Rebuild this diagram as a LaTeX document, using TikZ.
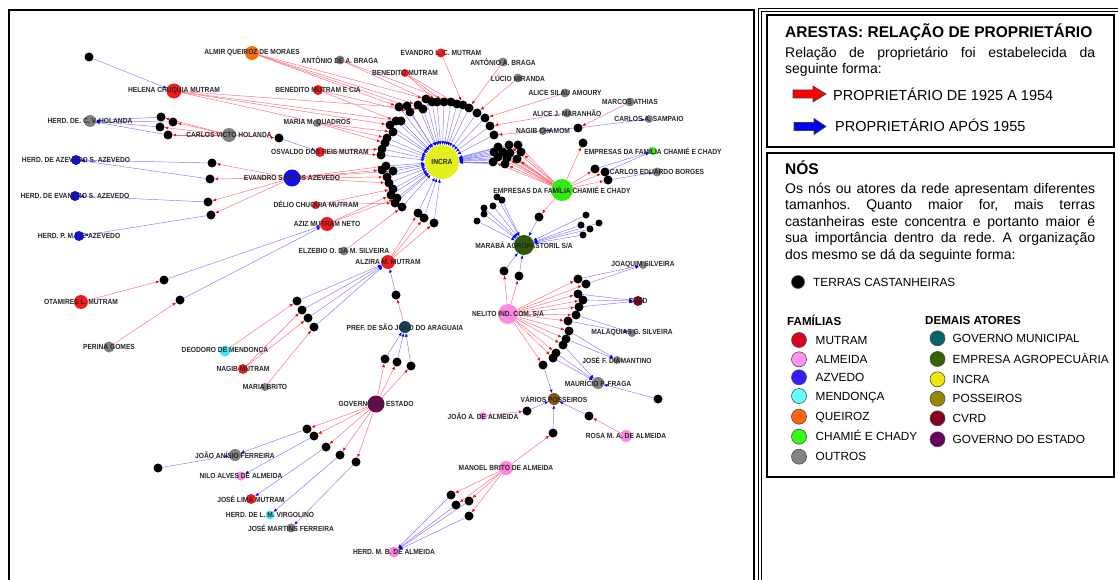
\documentclass[tikz,border=0pt]{standalone}
\usepackage{fontspec}
\setmainfont{Liberation Sans}
\newfontfamily\lblfont[FakeStretch=0.9]{Liberation Sans}
\usetikzlibrary{arrows.meta,backgrounds}

\definecolor{oldred}{RGB}{255,105,120}
\definecolor{newblue}{RGB}{125,120,255}
\definecolor{nmutram}{RGB}{245,25,30}
\definecolor{nalmeida}{RGB}{255,135,225}
\definecolor{nazevedo}{RGB}{20,10,250}
\definecolor{nmendonca}{RGB}{60,230,245}
\definecolor{nqueiroz}{RGB}{245,115,15}
\definecolor{nchamie}{RGB}{50,235,20}
\definecolor{noutros}{RGB}{128,128,128}
\definecolor{nincra}{RGB}{228,240,30}
\definecolor{nmaraba}{RGB}{45,90,5}
\definecolor{npref}{RGB}{15,70,95}
\definecolor{ngov}{RGB}{105,10,75}
\definecolor{nposseiros}{RGB}{135,85,5}
\definecolor{ncvrd}{RGB}{135,0,30}
\definecolor{kmutram}{RGB}{220,0,35}
\definecolor{kalmeida}{RGB}{255,150,235}
\definecolor{kazevedo}{RGB}{50,30,255}
\definecolor{kmendonca}{RGB}{100,255,255}
\definecolor{kqueiroz}{RGB}{255,100,15}
\definecolor{kchamie}{RGB}{50,255,20}
\definecolor{koutros}{RGB}{130,130,130}
\definecolor{kmun}{RGB}{0,100,105}
\definecolor{kempresa}{RGB}{50,100,0}
\definecolor{kincra}{RGB}{240,230,0}
\definecolor{kposseiros}{RGB}{150,135,0}
\definecolor{kcvrd}{RGB}{135,0,30}
\definecolor{kgov}{RGB}{100,0,100}

\begin{document}
\frenchspacing
\begin{tikzpicture}[%
    x=1pt, y=-1pt,
    land/.style={
        circle,
        fill=black,
        inner sep=0pt,
        minimum size=9,
        },
    smallland/.style={land, minimum size=7},
    actor/.style={
        circle,
        inner sep=0pt,
        minimum size=#1,
        },
    actorlabel/.style={
        font=\lblfont\fontsize{7.4}{8}\selectfont\bfseries,
        text=black!85,
        inner sep=0pt,
        },
    before/.style={oldred, line width=0.45pt, -{Latex[length=3.5pt, width=3pt, color=red]}},
    after/.style={newblue, line width=0.45pt, -{Latex[length=3.5pt, width=3pt, color=blue]}},
    keydot/.style={circle, draw=black!70, line width=0.6pt, minimum size=15, inner sep=0pt},
    keytext/.style={anchor=base west, yshift=-4.2pt, inner sep=0pt, font=\fontsize{11.8}{14}\selectfont},
    keyhead/.style={anchor=base west, inner sep=0pt, font=\fontsize{11.6}{14}\selectfont\bfseries},
    keyarrow/.style={draw=black!75, line width=0.6pt},
]

\useasboundingbox (0,0) rectangle (1118,580);

% molduras
\draw[line width=2.5pt] (9,600) -- (9,10) -- (754,10) -- (754,600);
\draw[line width=0.8pt, double, double distance=2pt] (760,600) -- (760,10) -- (1130,10);
\draw[line width=1.8pt] (767,15) rectangle (1114,147);
\draw[line width=1.8pt] (767,153) rectangle (1114,477);

% terras castanheiras
\foreach \x/\y [count=\i] in {399/107, 407/106, 410/112, 418/105, 423/109, 426/99, 432/102,
        437/102, 444/102, 451/102, 457/104, 463/105, 469/108, 477/113, 485/118, 490/126,
        494/135, 390/125, 396/121, 401/121, 393/132, 387/138, 385/143, 382/149, 381/155,
        382/170, 386/166, 393/171, 387/177, 389/183, 393/189, 391/195, 397/198, 395/203,
        402/207}
    \node[land] (r\i) at (\x,\y) {};
\foreach \x/\y [count=\i] in {498/147, 509/145, 518/145, 494/152, 503/152, 510/153, 521/152,
        498/157, 507/158, 517/159, 493/162, 505/164}
    \node[land] (q\i) at (\x,\y) {};
\foreach \x/\y [count=\i] in {578/279, 586/284, 578/294, 583/300, 579/307, 576/315, 568/321,
        569/331, 566/339, 563/345, 556/353, 553/358}
    \node[land] (n\i) at (\x,\y) {};
\foreach \x/\y [count=\i] in {497/197, 502/200, 484/208, 493/206, 484/214, 477/221, 586/215,
        599/223, 581/225, 590/229, 583/235}
    \node[smallland] (c\i) at (\x,\y) {};
\foreach \n/\x/\y in {c12/539/217, c13/504/271, c14/519/276,
        h1/161/117, h2/173/122, h3/160/127, h4/168/135, h5/279/138,
        e1/212/163, e2/210/179, e3/208/202, e4/211/215, x1/89/57,
        a1/164/280, a2/180/300, z1/297/301, z2/302/310, z3/308/318, z4/314/327,
        i1/418/213, i2/424/218, i3/434/223, p1/396/295,
        g1/385/359, g2/397/362, g3/411/366,
        s1/307/429, s2/314/436, s3/326/447, s4/340/455, s5/356/462, s6/158/468,
        m1/451/495, m2/456/505, m3/469/501, m4/469/516,
        v1/543/365, v2/527/411, v3/553/433, v4/589/416, v5/658/399,
        k1/583/143, k2/578/128, w1/595/169, w2/605/172, w3/608/180}
    \node[land] (\n) at (\x,\y) {};

% atores
\foreach \n/\x/\y/\s/\c in {incra/442/162/34/nincra, almir/252/53/14/nqueiroz,
        antoniodab/340/60/9/noutros, evandrolc/441/53/9/nmutram, antonioab/503/62/9/noutros,
        bmutram/405/73/8/nmutram, lucio/518/78/9/noutros, bmcia/318/90/10/nmutram,
        helena/174/91/15/nmutram, alicesilau/565/93/9/noutros, marcos/630/102/9/noutros,
        alicej/567/113/9/noutros, sampaio/649/119/8/noutros, nagibc/543/131/8/noutros,
        herdcvh/90/121/12/noutros, cvholanda/229/135/14/noutros, mquadros/317/123/8/noutros,
        osvaldo/320/152/10/nmutram, herdazs/76/160/10/nazevedo, evandro/292/178/17/nazevedo,
        chamie/653/151/8/nchamie, borges/657/172/9/noutros, bigreen/562/190/22/nchamie,
        herdevs/75/196/10/nazevedo, delio/316/205/8/nmutram, aziz/327/224/14/nmutram,
        herdpm/79/236/10/nazevedo, elzebio/344/251/9/noutros, alzira/388/262/14/nmutram,
        maraba/524/245/20/nmaraba, joaquim/643/265/8/noutros, cvrd/638/301/10/ncvrd,
        otamires/81/302/14/nmutram, nelito/508/314/20/nalmeida, pref/405/327/12/npref,
        malaquias/632/333/8/noutros, perina/109/347/11/noutros, deodoro/225/351/11/nmendonca,
        diamantino/617/360/8/noutros, nagibm/243/369/10/nmutram, mauricio/598/383/12/noutros,
        mariab/265/387/8/noutros, gov/376/404/17/ngov, posseiros/554/399/12/nposseiros,
        joaoa/483/416/8/nalmeida, rosa/626/436/12/nalmeida, joaoanisio/235/455/12/noutros,
        manoel/506/468/14/nalmeida, nilo/241/476/9/nalmeida, joselima/251/499/10/nmutram,
        virgolino/270/515/9/nmendonca, josemartins/291/528/9/noutros, herdmb/394/552/11/nalmeida}
    \node[actor=\s, fill=\c] (\n) at (\x,\y) {};

% arestas
\begin{scope}[on background layer]
    \foreach \a/\b in {almir/r1, almir/r2, almir/r4, almir/r6, bmcia/r3, bmcia/r19,
            helena/r5, helena/r18, helena/r20, helena/r22, antoniodab/r7, antoniodab/r10,
            bmutram/r8, bmutram/r9, bmutram/r11, evandrolc/r12, antonioab/r13, lucio/r14,
            alicesilau/r15, alicej/r16, nagibc/r17, mquadros/r21, mquadros/r23,
            osvaldo/r24, osvaldo/r25, evandro/r26, evandro/r27, evandro/r28, evandro/r29,
            evandro/r30, delio/r31, delio/r34, aziz/r32, aziz/r33, elzebio/r35,
            evandro/e1, evandro/e2, evandro/e3, evandro/e4,
            alzira/i1, alzira/i2, alzira/i3, cvholanda/h1, cvholanda/h2, cvholanda/h3,
            cvholanda/h4, cvholanda/h5, otamires/a1, perina/a2, deodoro/z1, nagibm/z2,
            nagibm/z3, mariab/z4, pref/p1, gov/g1, gov/g2, gov/g3, gov/s1, gov/s2, gov/s3,
            gov/s4, gov/s5, manoel/m1, manoel/m2, manoel/m3, manoel/m4, manoel/v3,
            nelito/v1, nelito/c13, nelito/c14, joaoa/v2, rosa/v4, bigreen/c12,
            bigreen/k1, bigreen/w1, bigreen/w2, bigreen/w3, marcos/k2}
        \draw[before] (\a) -- (\b);
    \foreach \i in {1,...,12} {
        \draw[before] (bigreen) -- (q\i);
        \draw[before] (nelito) -- (n\i);
        \draw[after] (q\i) -- (incra);
    }
    \foreach \i in {1,...,35}
        \draw[after] (r\i) -- (incra);
    \foreach \i in {1,...,14}
        \draw[after] (c\i) -- (maraba);
    \foreach \a/\b in {i1/incra, i2/incra, i3/incra, h1/herdcvh, h2/herdcvh, h3/herdcvh,
            h4/herdcvh, h5/osvaldo, e1/herdazs, e2/herdazs, e3/herdevs, e4/herdpm,
            x1/helena, a1/aziz, a2/aziz, z1/alzira, z2/alzira, z3/alzira, z4/alzira,
            p1/alzira, g1/pref, g2/pref, g3/pref, s1/joaoanisio, s6/joaoanisio, s2/nilo,
            s3/joselima, s4/virgolino, s5/josemartins, m1/herdmb, m2/herdmb, m3/herdmb,
            m4/herdmb, v1/posseiros, v2/posseiros, v3/posseiros, v4/posseiros,
            v5/mauricio, n1/joaquim, n2/joaquim, n3/cvrd, n4/cvrd, n5/cvrd,
            n6/malaquias, n7/malaquias, n8/diamantino, n9/diamantino, n10/mauricio,
            n11/mauricio, n12/mauricio, k2/nagibc, k2/sampaio, w1/chamie, w2/chamie,
            w3/borges}
        \draw[after] (\a) -- (\b);
\end{scope}

% rotulos
\foreach \n/\t in {incra/INCRA, almir/ALMIR QUEIROZ DE MORAES, antoniodab/ANTÔNIO DE A. BRAGA,
        evandrolc/EVANDRO L. C. MUTRAM, antonioab/ANTÔNIO A. BRAGA, bmutram/BENEDITO MUTRAM,
        lucio/LÚCIO MIRANDA, bmcia/BENEDITO MUTRAM E CIA, helena/HELENA CHUQUIA MUTRAM,
        alicesilau/ALICE SILAU AMOURY, marcos/MARCOS ATHIAS, alicej/ALICE J. MARANHÃO,
        sampaio/CARLOS A. SAMPAIO, nagibc/NAGIB CHAMOM, herdcvh/HERD. DE. C. V. HOLANDA,
        cvholanda/CARLOS VICTO HOLANDA, mquadros/MARIA M. QUADROS,
        osvaldo/OSVALDO DOS REIS MUTRAM, herdazs/HERD. DE AZEVEDO S. AZEVEDO,
        evandro/EVANDRO SANTOS AZEVEDO, chamie/EMPRESAS DA FAMÍLIA CHAMIÉ E CHADY,
        borges/CARLOS EDUARDO BORGES, bigreen/EMPRESAS DA FAMÍLIA CHAMIÉ E CHADY,
        herdevs/HERD. DE EVANDRO S. AZEVEDO, delio/DÉLIO CHUQUIA MUTRAM,
        aziz/AZIZ MUTRAM NETO, herdpm/HERD. P. M. DE AZEVEDO,
        elzebio/ELZEBIO O. DA M. SILVEIRA, alzira/ALZIRA M. MUTRAM,
        maraba/{MARABÁ AGROPASTORIL S/A}, joaquim/JOAQUIM SILVEIRA, cvrd/CVRD,
        otamires/OTAMIRES L. MUTRAM, nelito/{NELITO IND. COM. S/A},
        pref/PREF. DE SÃO JOÃO DO ARAGUAIA, malaquias/MALAQUIAS G. SILVEIRA,
        perina/PERINA GOMES, deodoro/DEODORO DE MENDONÇA, diamantino/JOSÉ F. DIAMANTINO,
        nagibm/NAGIB MUTRAM, mauricio/MAURÍCIO P. FRAGA, mariab/MARIA BRITO,
        gov/GOVERNO DO ESTADO, posseiros/VÁRIOS POSSEIROS, joaoa/JOÃO A. DE ALMEIDA,
        rosa/ROSA M. A. DE ALMEIDA, joaoanisio/JOÃO ANÍSIO FERREIRA,
        manoel/MANOEL BRITO DE ALMEIDA, nilo/NILO ALVES DE ALMEIDA,
        joselima/JOSÉ LIMA MUTRAM, virgolino/HERD. DE L. M. VIRGOLINO,
        josemartins/JOSÉ MARTINS FERREIRA, herdmb/HERD. M. B. DE ALMEIDA}
    \node[actorlabel] (l\n) at (\n) {\t};

% legenda: arestas
\node[anchor=base west, inner sep=0pt, font=\fontsize{15.5}{18}\selectfont\bfseries]
    (arestas) at (785,37.5) {ARESTAS: RELAÇÃO DE PROPRIETÁRIO};
\node[anchor=north west, inner sep=0pt, text width=310pt, align=justify,
    font=\fontsize{14}{16}\selectfont]
    (arestastxt) at (785,46.5) {Relação de proprietário foi estabelecida da\linebreak seguinte forma:};
\draw[keyarrow, fill=red] (793,90) -- (813,90) -- (813,86) -- (826,94)
    -- (813,102) -- (813,98) -- (793,98) -- cycle;
\node[anchor=base west, inner sep=0pt, font=\fontsize{14.5}{17}\selectfont]
    (ate1954) at (833,100.5) {PROPRIETÁRIO DE 1925 A 1954};
\draw[keyarrow, fill=blue] (794,122.5) -- (814,122.5) -- (814,118.5) -- (826,126.5)
    -- (814,134.5) -- (814,130.5) -- (794,130.5) -- cycle;
\node[anchor=base west, inner sep=0pt, font=\fontsize{14.5}{17}\selectfont]
    (apos1955) at (835,132) {PROPRIETÁRIO APÓS 1955};

% legenda: nos
\node[anchor=base west, inner sep=0pt, font=\fontsize{15.5}{18}\selectfont\bfseries]
    (nos) at (785,175) {NÓS};
\node[anchor=north west, inner sep=0pt, text width=310pt, align=justify,
    font=\fontsize{14}{16.4}\selectfont]
    (nostxt) at (785,183) {Os nós ou atores da rede apresentam diferentes\linebreak
    tamanhos. Quanto maior for, mais terras\linebreak
    castanheiras este concentra e portanto maior é\linebreak
    sua importância dentro da rede. A organização\linebreak
    dos mesmo se dá da seguinte forma:};
\node[keydot, fill=black, minimum size=13] (terradot) at (798,282) {};
\node[keytext] (terratxt) at (813,282) {TERRAS CASTANHEIRAS};

\node[keyhead] (familias) at (787,325) {FAMÍLIAS};
\node[keyhead] (demais) at (925,324.5) {DEMAIS ATORES};
\foreach \c/\y/\t [count=\i] in {kmutram/340/MUTRAM, kalmeida/359.3/ALMEIDA,
        kazevedo/377.3/AZVEDO, kmendonca/396/MENDONÇA, kqueiroz/416.7/QUEIROZ,
        kchamie/436.7/CHAMIÉ E CHADY, koutros/456.7/OUTROS} {
    \node[keydot, fill=\c] (fam\i) at (799,\y) {};
    \node[keytext] (famtxt\i) at (815.5,\y) {\t};
}
\foreach \c/\y/\t [count=\i] in {kmun/338.3/GOVERNO MUNICIPAL, kempresa/359/EMPRESA AGROPECUÀRIA,
        kincra/379.3/INCRA, kposseiros/398.7/POSSEIROS, kcvrd/418.3/CVRD,
        kgov/439.3/GOVERNO DO ESTADO} {
    \node[keydot, fill=\c] (ator\i) at (937.5,\y) {};
    \node[keytext] (atortxt\i) at (952.5,\y) {\t};
}

\end{tikzpicture}
\end{document}
